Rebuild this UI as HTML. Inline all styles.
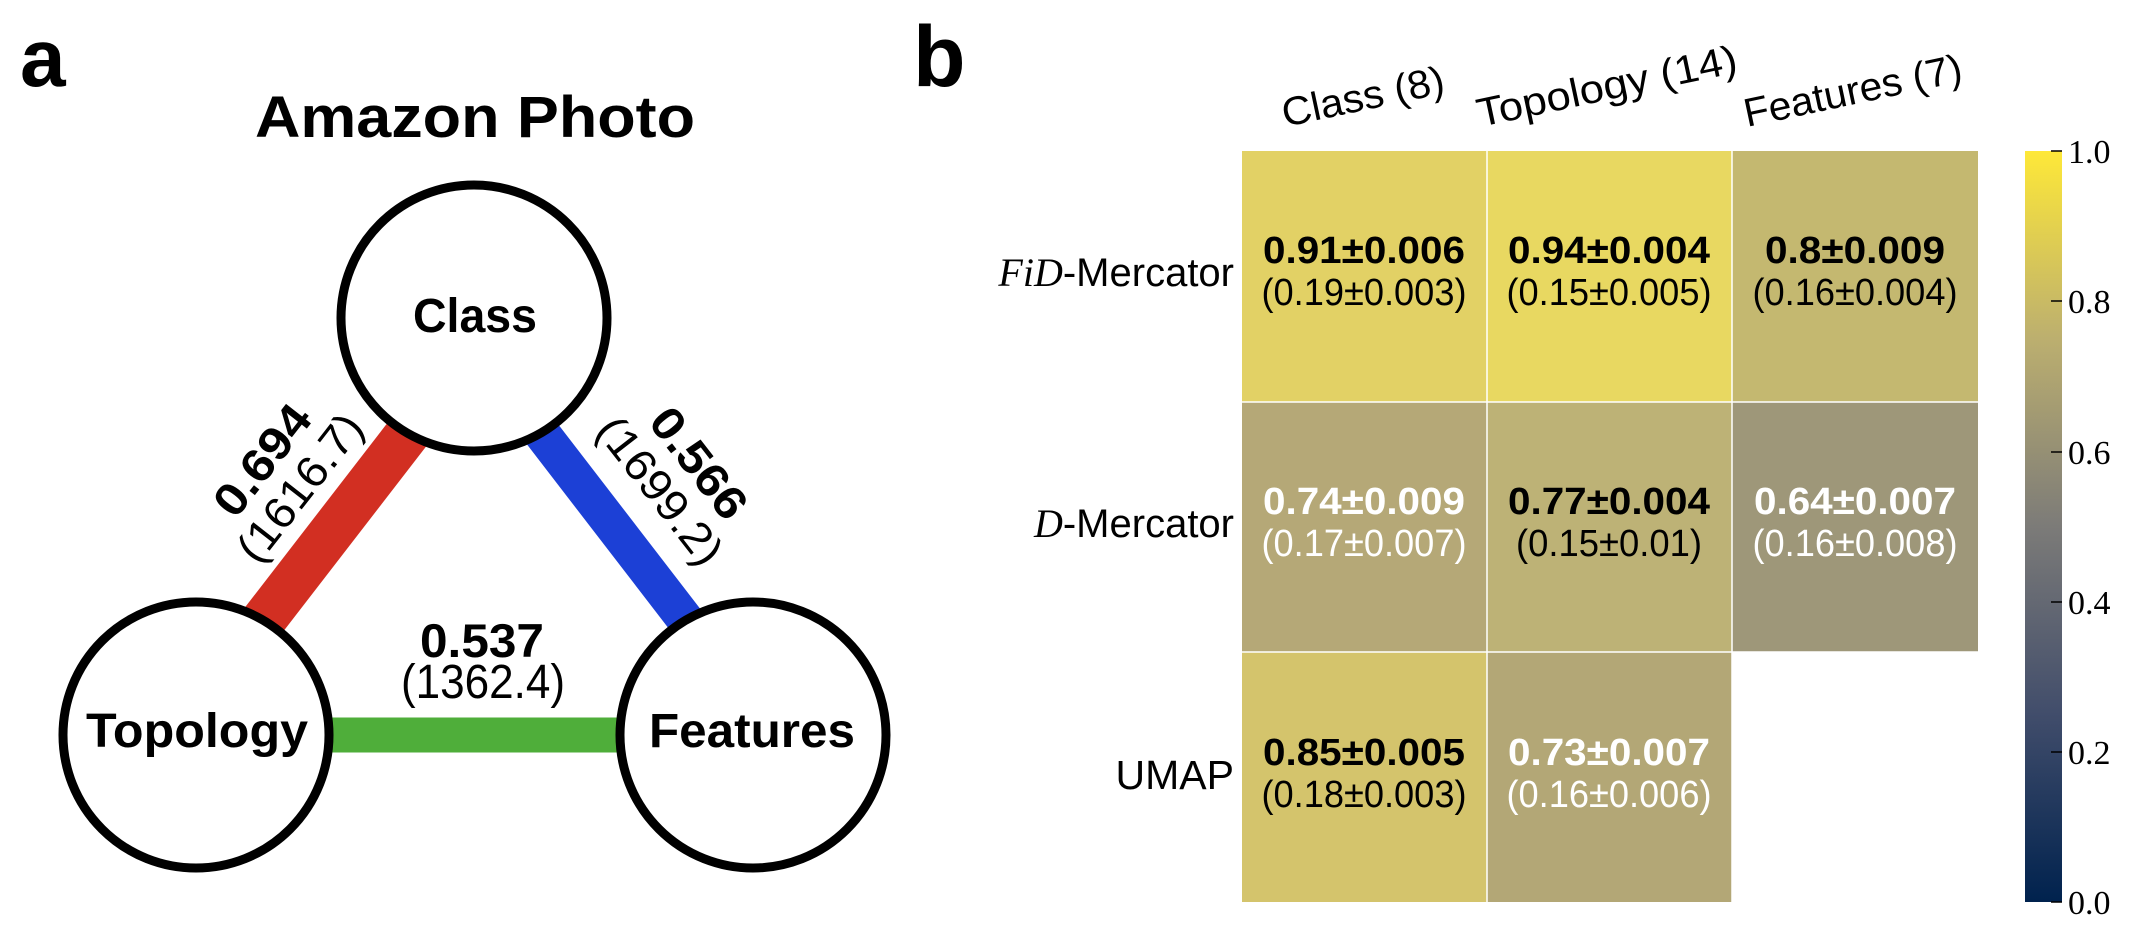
<!DOCTYPE html>
<html><head><meta charset="utf-8"><style>html,body{margin:0;padding:0;background:#fff}svg{display:block}</style></head>
<body>
<svg width="2146" height="926" viewBox="0 0 2146 926" xmlns="http://www.w3.org/2000/svg" font-family="Liberation Sans, sans-serif">
<defs>
<linearGradient id="cv" x1="0" y1="1" x2="0" y2="0">
<stop offset="0" stop-color="#00224e"/>
<stop offset="0.25" stop-color="#414d6b"/>
<stop offset="0.5" stop-color="#7c7b78"/>
<stop offset="0.75" stop-color="#bcaf6f"/>
<stop offset="1" stop-color="#fee838"/>
</linearGradient>
</defs>
<!-- panel a -->
<text x="20" y="86" font-size="82" font-weight="bold">a</text>
<text x="913" y="86" font-size="86" font-weight="bold">b</text>
<text x="255" y="137" font-size="58" font-weight="bold" textLength="440" lengthAdjust="spacingAndGlyphs">Amazon Photo</text>

<line x1="205" y1="696" x2="466" y2="358" stroke="#d22f22" stroke-width="45"/>
<line x1="483" y1="357" x2="744" y2="696" stroke="#1c40d6" stroke-width="37"/>
<line x1="250" y1="735" x2="700" y2="735" stroke="#4fae3a" stroke-width="35"/>

<circle cx="474" cy="318" r="133" fill="#fff" stroke="#000" stroke-width="9"/>
<circle cx="196" cy="735" r="133" fill="#fff" stroke="#000" stroke-width="9"/>
<circle cx="753" cy="735" r="133" fill="#fff" stroke="#000" stroke-width="9"/>

<text x="475" y="332" font-size="48" font-weight="bold" text-anchor="middle" textLength="124" lengthAdjust="spacingAndGlyphs">Class</text>
<text x="197" y="747" font-size="48" font-weight="bold" text-anchor="middle" textLength="222" lengthAdjust="spacingAndGlyphs">Topology</text>
<text x="752" y="747" font-size="48" font-weight="bold" text-anchor="middle" textLength="206" lengthAdjust="spacingAndGlyphs">Features</text>

<text x="482" y="657" font-size="47" font-weight="bold" text-anchor="middle" textLength="124" lengthAdjust="spacingAndGlyphs">0.537</text>
<text x="483" y="698" font-size="48" text-anchor="middle" textLength="164" lengthAdjust="spacingAndGlyphs">(1362.4)</text>

<g transform="translate(262,460) rotate(-52)"><text x="0" y="16" font-size="46" font-weight="bold" text-anchor="middle" textLength="128" lengthAdjust="spacingAndGlyphs">0.694</text></g>
<g transform="translate(299,487) rotate(-52)"><text x="0" y="16" font-size="44" text-anchor="middle" textLength="175" lengthAdjust="spacingAndGlyphs">(1616.7)</text></g>
<g transform="translate(699,463) rotate(52)"><text x="0" y="16" font-size="46" font-weight="bold" text-anchor="middle" textLength="128" lengthAdjust="spacingAndGlyphs">0.566</text></g>
<g transform="translate(661,490) rotate(52)"><text x="0" y="16" font-size="44" text-anchor="middle" textLength="175" lengthAdjust="spacingAndGlyphs">(1699.2)</text></g>

<!-- panel b heatmap -->
<rect x="1242" y="151" width="245" height="251" fill="#e2d165"/>
<rect x="1487" y="151" width="245" height="251" fill="#e8d861"/>
<rect x="1732" y="151" width="246" height="251" fill="#c4b870"/>
<rect x="1242" y="402" width="245" height="250" fill="#b5a877"/>
<rect x="1487" y="402" width="245" height="250" fill="#bdb276"/>
<rect x="1732" y="402" width="246" height="250" fill="#9e9779"/>
<rect x="1242" y="652" width="245" height="250" fill="#d4c46c"/>
<rect x="1487" y="652" width="245" height="250" fill="#b3a776"/>
<g stroke="#fff" stroke-width="1.5">
<line x1="1487" y1="151" x2="1487" y2="902"/><line x1="1732" y1="151" x2="1732" y2="902"/>
<line x1="1242" y1="402" x2="1978" y2="402"/><line x1="1242" y1="652" x2="1978" y2="652"/>
</g>

<g font-size="38" text-anchor="middle">
<text x="1364" y="263" font-weight="bold" textLength="202" lengthAdjust="spacingAndGlyphs">0.91±0.006</text>
<text x="1364" y="305" textLength="205" lengthAdjust="spacingAndGlyphs">(0.19±0.003)</text>
<text x="1609" y="263" font-weight="bold" textLength="202" lengthAdjust="spacingAndGlyphs">0.94±0.004</text>
<text x="1609" y="305" textLength="205" lengthAdjust="spacingAndGlyphs">(0.15±0.005)</text>
<text x="1855" y="263" font-weight="bold" textLength="180" lengthAdjust="spacingAndGlyphs">0.8±0.009</text>
<text x="1855" y="305" textLength="205" lengthAdjust="spacingAndGlyphs">(0.16±0.004)</text>

<text x="1364" y="514" font-weight="bold" fill="#fff" textLength="202" lengthAdjust="spacingAndGlyphs">0.74±0.009</text>
<text x="1364" y="556" fill="#fff" textLength="205" lengthAdjust="spacingAndGlyphs">(0.17±0.007)</text>
<text x="1609" y="514" font-weight="bold" textLength="202" lengthAdjust="spacingAndGlyphs">0.77±0.004</text>
<text x="1609" y="556" textLength="186" lengthAdjust="spacingAndGlyphs">(0.15±0.01)</text>
<text x="1855" y="514" font-weight="bold" fill="#fff" textLength="202" lengthAdjust="spacingAndGlyphs">0.64±0.007</text>
<text x="1855" y="556" fill="#fff" textLength="205" lengthAdjust="spacingAndGlyphs">(0.16±0.008)</text>

<text x="1364" y="765" font-weight="bold" textLength="202" lengthAdjust="spacingAndGlyphs">0.85±0.005</text>
<text x="1364" y="807" textLength="205" lengthAdjust="spacingAndGlyphs">(0.18±0.003)</text>
<text x="1609" y="765" font-weight="bold" fill="#fff" textLength="202" lengthAdjust="spacingAndGlyphs">0.73±0.007</text>
<text x="1609" y="807" fill="#fff" textLength="205" lengthAdjust="spacingAndGlyphs">(0.16±0.006)</text>
</g>

<!-- row labels -->
<text x="1234" y="286" font-size="40" text-anchor="end"><tspan font-family="Liberation Serif, serif" font-style="italic">FiD</tspan>-Mercator</text>
<text x="1234" y="537" font-size="40" text-anchor="end"><tspan font-family="Liberation Serif, serif" font-style="italic">D</tspan>-Mercator</text>
<text x="1234" y="789" font-size="41" text-anchor="end">UMAP</text>

<!-- column labels -->
<g transform="translate(1285,127) rotate(-12)"><text x="0" y="0" font-size="40" textLength="165" lengthAdjust="spacingAndGlyphs">Class (8)</text></g>
<g transform="translate(1480,127) rotate(-12)"><text x="0" y="0" font-size="40" textLength="265" lengthAdjust="spacingAndGlyphs">Topology (14)</text></g>
<g transform="translate(1747,127) rotate(-12)"><text x="0" y="0" font-size="40" textLength="222" lengthAdjust="spacingAndGlyphs">Features (7)</text></g>

<!-- colorbar -->
<rect x="2025" y="151" width="37" height="751" fill="url(#cv)"/>
<g stroke="#000" stroke-width="1.5">
<line x1="2051" y1="151" x2="2062" y2="151"/><line x1="2051" y1="301" x2="2062" y2="301"/>
<line x1="2051" y1="452" x2="2062" y2="452"/><line x1="2051" y1="602" x2="2062" y2="602"/>
<line x1="2051" y1="752" x2="2062" y2="752"/><line x1="2051" y1="902" x2="2062" y2="902"/>
</g>
<g font-family="Liberation Serif, serif" font-size="34">
<text x="2068" y="163">1.0</text><text x="2068" y="313">0.8</text><text x="2068" y="464">0.6</text>
<text x="2068" y="614">0.4</text><text x="2068" y="764">0.2</text><text x="2068" y="914">0.0</text>
</g>
</svg>
</body></html>
